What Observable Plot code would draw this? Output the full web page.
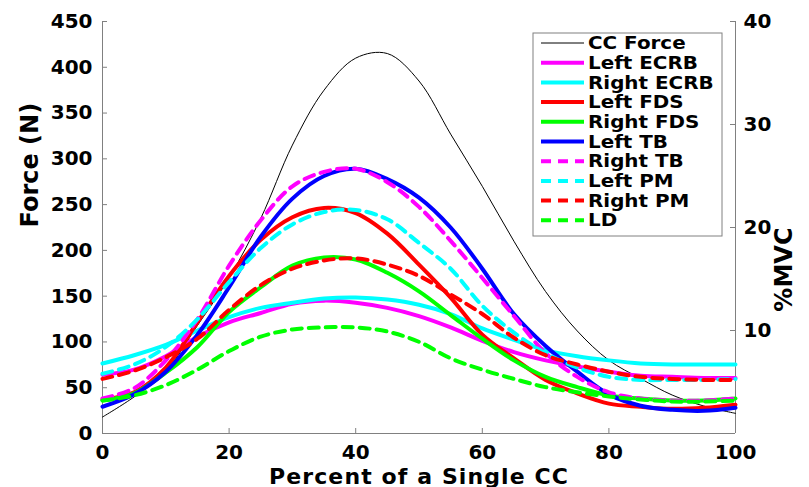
<!DOCTYPE html>
<html><head><meta charset="utf-8">
<script src="https://cdn.jsdelivr.net/npm/d3@7"></script>
<script src="https://cdn.jsdelivr.net/npm/@observablehq/plot@0.6"></script>
<style>
body{margin:0;background:#fff;}
#wrap{position:relative;width:809px;height:487px;}
#wrap svg text{font-family:"DejaVu Sans",sans-serif;font-weight:bold;}
#legend{position:absolute;left:0;top:0;pointer-events:none;}
</style></head><body><div id="wrap"></div>
<script>
// Percent of a single CC (x positions of the samples)
const pctCC = [0,5,10,15,20,25,30,35,40,45,50,55,60,65,70,75,80,85,90,95,100];
// CC Force (N) - left axis
const ccForce = [18,40,68,118,170,235,315,375,410,415,385,327,270,210,155,112,80,60,42,30,22];
// EMG (%MVC) - right axis
const leftECRB  = [5.7,6.2,7.5,9.4,10.8,11.7,12.6,12.9,12.7,12.2,11.4,10.3,9.0,7.9,7.1,6.5,6.0,5.6,5.5,5.4,5.4];
const rightECRB = [6.8,7.6,8.6,10.0,11.3,12.2,12.7,13.1,13.2,13.0,12.5,11.6,10.2,9.1,8.1,7.5,7.1,6.8,6.7,6.7,6.7];
const leftFDS   = [3.3,4.0,6.4,10.8,15.3,18.8,21.0,21.9,21.4,19.4,16.4,13.2,9.6,7.3,5.2,3.9,2.9,2.6,2.4,2.5,2.8];
const rightFDS  = [3.2,3.9,5.9,8.4,11.8,14.2,16.3,17.1,16.9,15.6,13.8,11.5,9.2,7.1,5.5,4.5,3.7,3.4,3.2,3.2,3.4];
const leftTB    = [2.6,3.8,6.0,9.6,14.2,19.1,22.8,25.0,25.7,24.7,22.9,20.0,16.0,11.6,8.5,6.0,3.8,2.7,2.3,2.2,2.5];
const rightTB   = [3.4,4.4,7.1,11.1,16.3,20.7,24.0,25.4,25.7,24.4,22.0,18.7,15.1,11.4,7.8,5.5,4.0,3.4,3.2,3.2,3.4];
const leftPM    = [5.8,6.7,8.4,11.1,14.7,18.0,20.3,21.5,21.7,20.8,18.5,16.0,12.4,9.8,7.8,6.4,5.5,5.2,5.2,5.2,5.3];
const rightPM   = [5.3,6.1,7.4,9.2,12.0,14.4,16.0,16.8,17.0,16.4,15.3,13.5,11.6,9.3,7.6,6.7,6.0,5.5,5.3,5.2,5.2];
const ld        = [3.2,3.7,4.7,6.2,8.0,9.4,10.1,10.3,10.3,9.9,8.9,7.3,6.2,5.3,4.5,4.0,3.6,3.3,3.1,3.1,3.2];

const seriesNames  = ["Left ECRB","Right ECRB","Left FDS","Right FDS","Left TB","Right TB","Left PM","Right PM","LD"];
const seriesValues = [leftECRB,rightECRB,leftFDS,rightFDS,leftTB,rightTB,leftPM,rightPM,ld];
const seriesColors = ["#ff00ff","#00ffff","#ff0000","#00ff00","#0000ff","#ff00ff","#00ffff","#ff0000","#00ff00"];
const seriesDashed = [false,false,false,false,false,true,true,true,true];

const xTicks = [0,20,40,60,80,100];
const leftTicks = [0,50,100,150,200,250,300,350,400,450];
const rightTicks = [10,20,30,40];
const forceMax = 450, mvcMax = 40;
const K = forceMax / mvcMax; // map %MVC onto the shared vertical scale

const W = 809, H = 487, mL = 102, mR = 74, mT = 21, mB = 54;
const tickPx = 5;
const tickDX = tickPx * 100 / (W - mL - mR);     // tick length in x data units
const tickDY = tickPx * forceMax / (H - mT - mB); // tick length in y data units

const grey = "#808080";
const ccRows = pctCC.map((x,i)=>({x, y: ccForce[i]}));
const marks = [
  Plot.ruleX([0,100], {stroke: grey, strokeWidth: 1}),
  Plot.ruleY([0], {stroke: grey, strokeWidth: 1}),
  Plot.ruleX(xTicks, {y1: 0, y2: tickDY, stroke: grey}),
  Plot.ruleY(leftTicks, {x1: 0, x2: tickDX, stroke: grey}),
  Plot.ruleY(rightTicks.map(v=>v*K), {x1: 100 - tickDX, x2: 100, stroke: grey}),
  Plot.axisX({ticks: xTicks, tickSize: 0, tickPadding: 11, fontSize: 20, label: null, tickFormat: d=>d}),
  Plot.axisY({anchor: "left", ticks: leftTicks, tickSize: 0, tickPadding: 10, fontSize: 20, label: null, tickFormat: d=>d}),
  Plot.axisY({anchor: "right", ticks: rightTicks.map(v=>v*K), tickSize: 0, tickPadding: 8, fontSize: 20, label: null, tickFormat: d=>Math.round(d/K)}),
  Plot.line(ccRows, {x: "x", y: "y", stroke: "black", strokeWidth: 1, curve: "catmull-rom"})
];
seriesValues.forEach((vals, s) => {
  const rows = pctCC.map((x,i)=>({x, y: vals[i]*K}));
  marks.push(Plot.line(rows, {x: "x", y: "y", stroke: seriesColors[s], strokeWidth: 4,
    strokeDasharray: seriesDashed[s] ? "10,7" : null, curve: "catmull-rom"}));
});
marks.push(
  Plot.text(["Percent of a Single CC"], {text: d=>d, frameAnchor: "bottom", dy: 43, fontSize: 22, lineAnchor: "middle", fill: "black"}),
  Plot.text(["Force (N)"], {text: d=>d, frameAnchor: "left", dx: -72, rotate: -90, fontSize: 24, lineAnchor: "middle", fill: "black"}),
  Plot.text(["%MVC"], {text: d=>d, frameAnchor: "right", dx: 49, rotate: -90, fontSize: 24, lineAnchor: "middle", fill: "black"})
);

const chart = Plot.plot({
  width: W, height: H,
  marginLeft: mL, marginRight: mR, marginTop: mT, marginBottom: mB,
  x: {domain: [0,100]},
  y: {domain: [0,forceMax]},
  style: {fontFamily: "DejaVu Sans", fontWeight: "bold", color: "black", background: "white", overflow: "visible"},
  marks
});
document.getElementById("wrap").appendChild(chart);
d3.select(chart).selectAll("text").filter(function(){ return this.textContent === "Percent of a Single CC"; })
  .style("letter-spacing", "1.1px");

// Legend
const legNames = ["CC Force", ...seriesNames];
const legColors = ["black", ...seriesColors];
const legDashed = [false, ...seriesDashed];
const legWidths = [1, ...seriesNames.map(()=>4)];
const svg = d3.select("#wrap").append("svg").attr("id","legend").attr("width",W).attr("height",H);
svg.append("rect").attr("x",533).attr("y",33).attr("width",189).attr("height",203)
  .attr("fill","white").attr("stroke",grey).attr("stroke-width",1);
legNames.forEach((n,i)=>{
  const cy = 43 + i*19.7;
  svg.append("line").attr("x1",541).attr("x2",584).attr("y1",cy).attr("y2",cy)
    .attr("stroke",legColors[i]).attr("stroke-width",legWidths[i])
    .attr("stroke-dasharray", legDashed[i] ? "10,7" : null);
  svg.append("text").attr("x",0).attr("y",0).attr("dy","0.36em")
    .attr("transform",`translate(588,${cy}) scale(1.17,1)`)
    .attr("font-size",17).attr("fill","black").text(n);
});
</script></body></html>
